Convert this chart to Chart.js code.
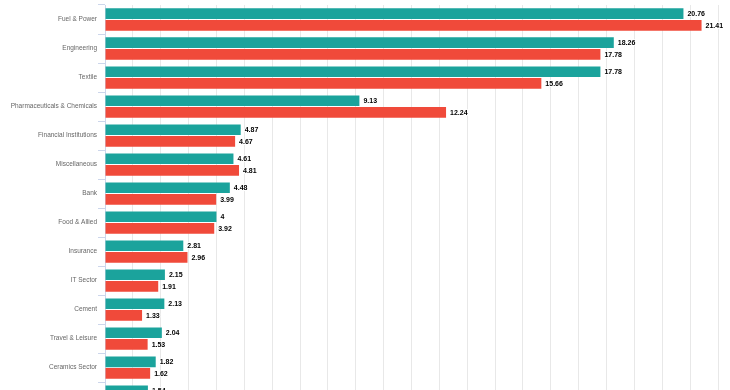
<!DOCTYPE html>
<html>
<head>
<meta charset="utf-8">
<script src="https://cdn.jsdelivr.net/npm/chart.js@4/dist/chart.umd.min.js"></script>
<style>
  html, body { margin: 0; padding: 0; background: #fff; overflow: hidden; }
  #wrap { width: 730px; height: 416px; }
</style>
</head>
<body>
<div id="wrap"><canvas id="c" width="730" height="416"></canvas></div>
<script>
const categories = [
  "Fuel & Power", "Engineering", "Textile", "Pharmaceuticals & Chemicals",
  "Financial Institutions", "Miscellaneous", "Bank", "Food & Allied",
  "Insurance", "IT Sector", "Cement", "Travel & Leisure", "Ceramics Sector", ""
];
const seriesA = [20.76, 18.26, 17.78, 9.13, 4.87, 4.61, 4.48, 4, 2.81, 2.15, 2.13, 2.04, 1.82, 1.54];
const seriesB = [21.41, 17.78, 15.66, 12.24, 4.67, 4.81, 3.99, 3.92, 2.96, 1.91, 1.33, 1.53, 1.62, null];
const xMax = 22;

const valueLabels = {
  id: 'valueLabels',
  afterDatasetsDraw(chart) {
    const ctx = chart.ctx;
    ctx.save();
    ctx.font = 'bold 7px "Liberation Sans", Arial, sans-serif';
    ctx.textBaseline = 'middle';
    ctx.textAlign = 'left';
    chart.data.datasets.forEach((ds, di) => {
      const meta = chart.getDatasetMeta(di);
      meta.data.forEach((el, i) => {
        const v = ds.data[i];
        if (v == null) return;
        const t = String(v);
        ctx.lineWidth = 2;
        ctx.strokeStyle = '#ffffff';
        ctx.lineJoin = 'round';
        ctx.strokeText(t, el.x + 4, el.y + 0.5);
        ctx.fillStyle = '#000000';
        ctx.fillText(t, el.x + 4, el.y + 0.5);
      });
    });
    ctx.restore();
  }
};

new Chart(document.getElementById('c'), {
  type: 'bar',
  data: {
    labels: categories,
    datasets: [
      { data: seriesA, backgroundColor: '#1ba39c', borderWidth: 0, barPercentage: 0.92, categoryPercentage: 0.8 },
      { data: seriesB, backgroundColor: '#f04a3a', borderWidth: 0, barPercentage: 0.92, categoryPercentage: 0.8 }
    ]
  },
  options: {
    indexAxis: 'y',
    responsive: false,
    animation: false,
    layout: { padding: { top: 5, right: 12, bottom: 0, left: 0 } },
    plugins: { legend: { display: false }, tooltip: { enabled: false } },
    scales: {
      x: {
        min: 0, max: xMax,
        ticks: { display: false, stepSize: 1 },
        grid: { color: '#e8e8e8', drawTicks: false },
        border: { display: false },
        afterFit(scale) { scale.height = 0; }
      },
      y: {
        ticks: { color: '#666666', padding: 1, font: { family: '"Liberation Sans", Arial, sans-serif', size: 6.5 } },
        grid: { drawOnChartArea: false, color: '#ccd6eb', tickLength: 7, offset: true },
        border: { color: '#ccd6eb' },
        afterFit(scale) { scale.width = 105; }
      }
    }
  },
  plugins: [valueLabels]
});
</script>
</body>
</html>
